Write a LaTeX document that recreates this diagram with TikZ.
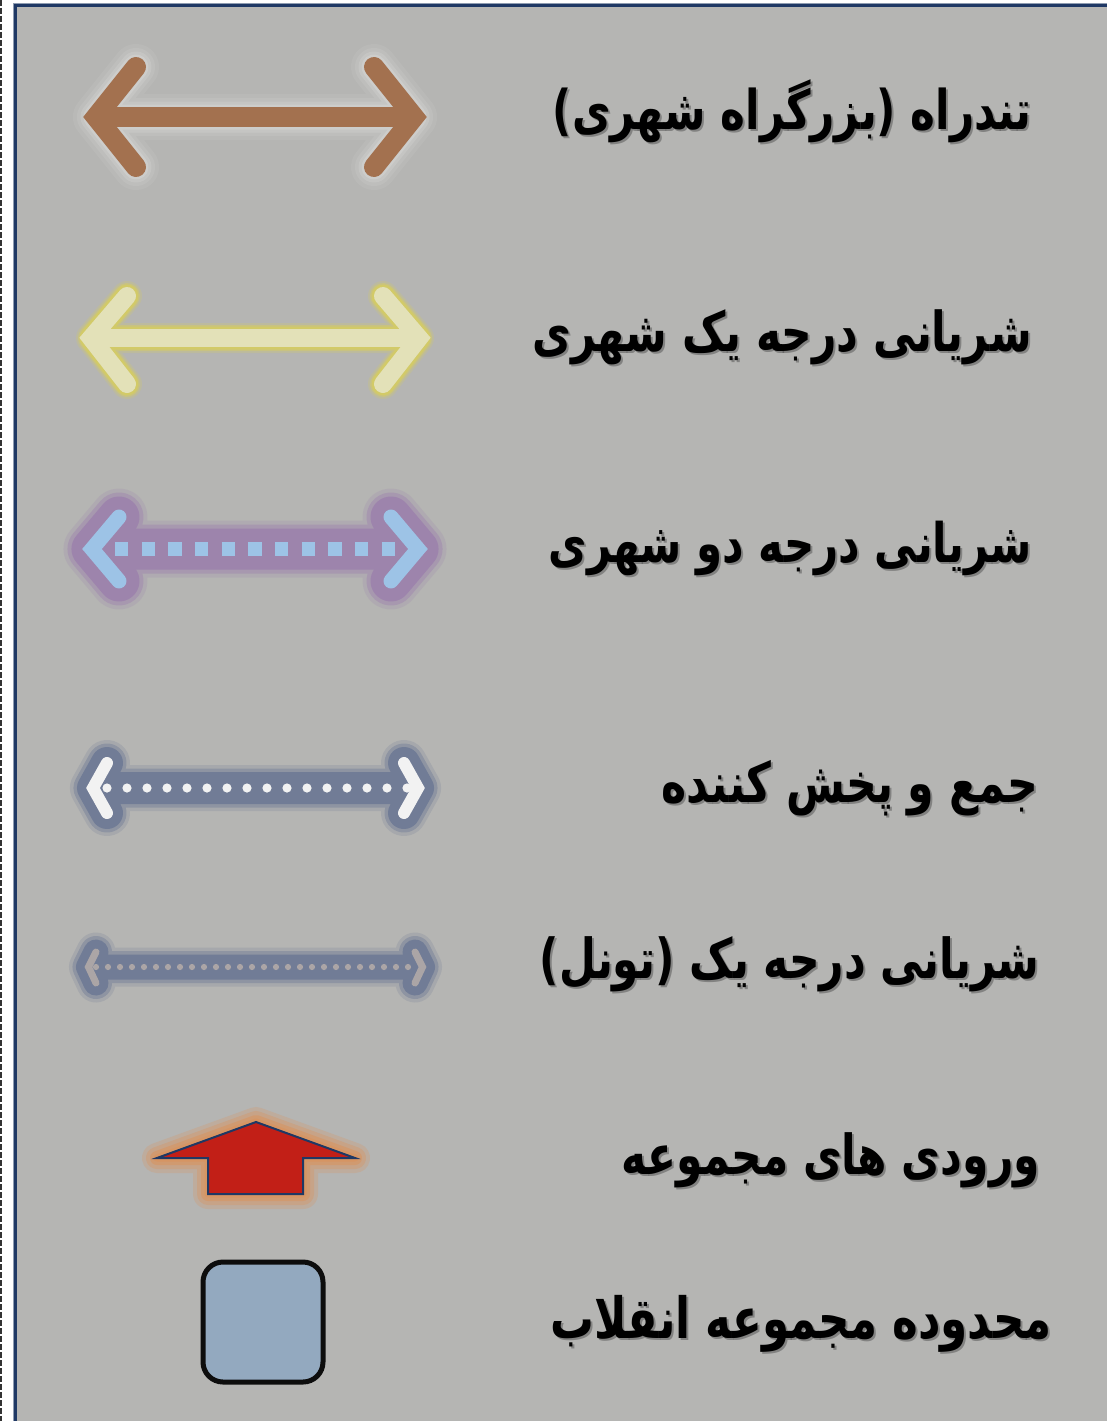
\documentclass[tikz,border=0pt]{standalone}
\usepackage{fontspec}
\newfontfamily\fa[Script=Arabic]{DejaVu Sans}
\TeXXeTstate=1
\definecolor{panel}{HTML}{B5B5B3}
\definecolor{navyb}{HTML}{1F3864}
\definecolor{brownA}{HTML}{A3714F}
\definecolor{brownG}{HTML}{DADAD8}
\definecolor{creamA}{HTML}{E3E1B8}
\definecolor{yellowG}{HTML}{D4CB66}
\definecolor{blueA}{HTML}{9DC3E6}
\definecolor{purpleG}{HTML}{9B7FAC}
\definecolor{whiteA}{HTML}{F2F2F2}
\definecolor{navyG}{HTML}{6A7793}
\definecolor{tunA}{HTML}{ABA5A6}
\definecolor{redA}{HTML}{C21F17}
\definecolor{orangeG}{HTML}{D9935E}
\definecolor{boxA}{HTML}{93A9BF}
\definecolor{shadowT}{HTML}{505050}
\newcommand\glowlayers[4]{% color, base width, list extra/opacity, path
  \foreach \gw/\go in {#3}{%
    \pgfmathsetmacro\lw{#2+\gw}%
    \draw[#1, line width=\lw pt, opacity=\go, line cap=round, line join=round] #4;
  }}
\newcommand\fitlabel[2]{\scalebox{1}[1.3]{\resizebox{#1pt}{!}{#2}}}
\tikzset{
  txtmain/.style={inner sep=0pt, text=black, anchor=east, font=\fa\bfseries\fontsize{40}{46}\selectfont},
  txtshadow/.style={txtmain, text=shadowT, opacity=0.5},
  chev/.style={line cap=round, line join=miter},
}
\begin{document}
\begin{tikzpicture}[x=1pt,y=-1pt]
\useasboundingbox (0,0) rectangle (1107,1421);
\fill[white] (0,0) rectangle (1107,1421);
\draw[black!80, line width=2pt, dash pattern=on 6pt off 2pt] (1,0) -- (1,1421);
% panel
\fill[panel] (14,5) rectangle (1107,1421);
\draw[navyb, line width=3pt] (15.5,1421) -- (15.5,5.5) -- (1107,5.5);
\draw[navyb!50!white, line width=0.8pt] (13.6,1421) -- (13.6,3.8) -- (1107,3.8);

% ---------- 1 brown arrow
\glowlayers{brownG}{20}{26/0.12,18/0.18,11/0.28,5/0.4}{(136,67)--(96,117)--(136,167) (374,67)--(414,117)--(374,167) (96,117)--(414,117)}
\draw[brownA, line width=20pt, chev] (136,67)--(96,117)--(136,167) (374,67)--(414,117)--(374,167);
\draw[brownA, line width=20pt] (96,117)--(414,117);

% ---------- 2 yellow arrow
\glowlayers{yellowG}{18}{12/0.25,8/0.5,5/0.9}{(127,296)--(91,338)--(127,384) (383,296)--(419,338)--(383,384) (91,338)--(419,338)}
\draw[creamA, line width=18pt, chev] (127,296)--(91,338)--(127,384) (383,296)--(419,338)--(383,384);
\draw[creamA, line width=18pt] (91,338)--(419,338);

% ---------- 3 purple / blue squares
\glowlayers{purpleG}{15}{42/0.2,34/0.4,26/0.8}{(119,517)--(92,549)--(119,581) (391,517)--(418,549)--(391,581) (92,549)--(418,549)}
\draw[blueA, line width=15pt, chev] (119,517)--(92,549)--(119,581) (391,517)--(418,549)--(391,581);
\draw[blueA, line width=14pt, dash pattern=on 13.33pt off 13.33pt] (115,549)--(395,549);

% ---------- 4 navy / white dots
\glowlayers{navyG}{12}{34/0.2,27/0.4,20/0.8}{(107,763)--(93,788)--(107,813) (404,763)--(418,788)--(404,813) (93,788)--(418,788)}
\draw[whiteA, line width=12pt, chev] (107,763)--(93,788)--(107,813) (404,763)--(418,788)--(404,813);
\foreach \i in {0,...,15} \fill[whiteA] ({107+20*\i},788) circle[radius=4.6];

% ---------- 5 tunnel
\glowlayers{navyG}{7}{32/0.2,25/0.4,18/0.8}{(96,952)--(88.5,967)--(96,983) (415,952)--(422.5,967)--(415,983) (88.5,967)--(422.5,967)}
\draw[tunA, line width=7pt, chev] (96,952)--(88.5,967)--(96,983) (415,952)--(422.5,967)--(415,983);
\foreach \i in {0,...,26} \fill[tunA] ({96+12*\i},967) circle[radius=3.1];

% ---------- 6 red entrance arrow
\glowlayers{orangeG}{0}{30/0.25,22/0.35,14/0.55,7/0.7}{(256,1122)--(355,1158)--(303,1158)--(303,1194)--(208,1194)--(208,1158)--(157,1158)--cycle}
\draw[navyb, fill=redA, line width=2pt, line join=miter] (256,1122)--(355,1158)--(303,1158)--(303,1194)--(208,1194)--(208,1158)--(157,1158)--cycle;

% ---------- 7 area box
\draw[fill=boxA, draw=black!95, line width=5pt, rounded corners=20pt] (203,1262) rectangle (323,1382);

% ---------- labels (shadow first, then text)
\node[txtshadow] (t1s) at (1034,113) {\fitlabel{479}{\beginR تندراه (بزرگراه شهری)\endR}};
\node[txtmain]   (t1)  at (1032,111) {\fitlabel{479}{\beginR تندراه (بزرگراه شهری)\endR}};
\node[txtshadow] (t2s) at (1034,339) {\fitlabel{499}{\beginR شریانی درجه یک شهری\endR}};
\node[txtmain]   (t2)  at (1032,337) {\fitlabel{499}{\beginR شریانی درجه یک شهری\endR}};
\node[txtshadow] (t3s) at (1034,550) {\fitlabel{483}{\beginR شریانی درجه دو شهری\endR}};
\node[txtmain]   (t3)  at (1032,548) {\fitlabel{483}{\beginR شریانی درجه دو شهری\endR}};
\node[txtshadow] (t4s) at (1040,790) {\fitlabel{376}{\beginR جمع و پخش کننده\endR}};
\node[txtmain]   (t4)  at (1038,788) {\fitlabel{376}{\beginR جمع و پخش کننده\endR}};
\node[txtshadow] (t5s) at (1042,966) {\fitlabel{500}{\beginR شریانی درجه یک (تونل)\endR}};
\node[txtmain]   (t5)  at (1040,964) {\fitlabel{500}{\beginR شریانی درجه یک (تونل)\endR}};
\node[txtshadow] (t6s) at (1042,1162) {\fitlabel{418}{\beginR ورودی های مجموعه\endR}};
\node[txtmain]   (t6)  at (1040,1160) {\fitlabel{418}{\beginR ورودی های مجموعه\endR}};
\node[txtshadow] (t7s) at (1054,1326) {\fitlabel{501}{\beginR محدوده مجموعه انقلاب\endR}};
\node[txtmain]   (t7)  at (1052,1324) {\fitlabel{501}{\beginR محدوده مجموعه انقلاب\endR}};
\end{tikzpicture}
\end{document}
